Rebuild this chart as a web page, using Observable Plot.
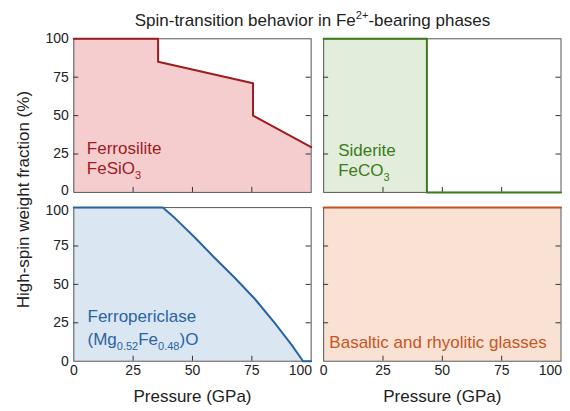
<!DOCTYPE html>
<html><head><meta charset="utf-8">
<script src="https://cdn.jsdelivr.net/npm/d3@7"></script>
<script src="https://cdn.jsdelivr.net/npm/@observablehq/plot@0.6"></script>
<style>
html,body{margin:0;padding:0;background:#fff;}
#wrap{width:570px;font-family:"Liberation Sans",Arial,Helvetica,sans-serif;color:#222;}
#title{position:relative;height:30px;width:570px;}
#title span{position:absolute;left:312.5px;top:12px;transform:translateX(-50%);white-space:nowrap;font-size:17px;line-height:1;}
#title sup{font-size:11px;line-height:0;vertical-align:0;position:relative;top:-7px;}
</style></head>
<body><div id="wrap"><div id="title"><span>Spin-transition behavior in Fe<sup>2+</sup>-bearing phases</span></div><div id="chart"></div></div>
<script>
// ---- data ----
const pressureTicks = [0, 25, 50, 75, 100];
const fractionTicks = [0, 25, 50, 75, 100];
const xTitle = "Pressure (GPa)";
const yTitle = "High-spin weight fraction (%)";

const ferrosilitePressure = [0, 35.5, 35.5, 75.5, 75.5, 100];
const ferrosiliteFraction = [100, 100, 85, 71, 50, 29.5];

const sideritePressure = [0, 43.5, 43.5, 100];
const sideriteFraction = [100, 100, 0, 0];

const ferropericlasePressure = [0, 37.5, 42.7, 51, 59.5, 68, 76.3, 84.7, 91.7, 96.6, 100];
const ferropericlaseFraction = [100, 100, 93, 80.5, 67, 54, 40.5, 24.8, 10.8, 0, 0];

const glassesPressure = [0, 100];
const glassesFraction = [100, 100];

const panelNames = ["Ferrosilite", "Siderite", "Ferropericlase", "Basaltic and rhyolitic glasses"];
const panelFormulas = ["FeSiO_{3}", "FeCO_{3}", "(Mg_{0.52}Fe_{0.48})O", ""];

// ---- layout / styles ----
const columns = ["left", "right"];
const rowsOrder = ["top", "bottom"];
const font = '"Liberation Sans", Arial, Helvetica, sans-serif';
const panelStyle = [
  {col: "left", row: "top", line: "#9c1c1f", fill: "#f5cdcf", dx: 13, nameDy: -38, formulaDy: -18.6},
  {col: "right", row: "top", line: "#3c7a20", fill: "#e2eedb", dx: 14.5, nameDy: -36, formulaDy: -16.6},
  {col: "left", row: "bottom", line: "#2864a2", fill: "#dbe6f3", dx: 13.7, nameDy: -39.7, formulaDy: -16.7},
  {col: "right", row: "bottom", line: "#c9541f", fill: "#f9e2d4", dx: 5.7, nameDy: -13, formulaDy: 0}
];
const seriesP = [ferrosilitePressure, sideritePressure, ferropericlasePressure, glassesPressure];
const seriesF = [ferrosiliteFraction, sideriteFraction, ferropericlaseFraction, glassesFraction];

const panels = panelStyle.map((s, k) => ({
  ...s,
  name: panelNames[k],
  formula: panelFormulas[k],
  rows: seriesP[k].map((p, i) => ({col: s.col, row: s.row, p, f: seriesF[k][i]}))
}));

const innerTicks = pressureTicks.slice(1, -1);
const yTickRows = [];
for (const row of rowsOrder) fractionTicks.forEach(v => yTickRows.push({col: "left", row, v, label: String(v),
  shift: row === "top" && v === fractionTicks[0] ? "up" : row === "bottom" && v === fractionTicks[fractionTicks.length - 1] ? "down" : "none"}));
const xTickRows = [];
for (const col of columns) pressureTicks.forEach((v, i) => xTickRows.push({col, row: "bottom", v, label: String(v), last: i === pressureTicks.length - 1}));
const xTitleRows = columns.map(col => ({col, row: "bottom", label: xTitle}));

const marks = [];
panels.forEach(p => marks.push(Plot.areaY(p.rows, {x: "p", y1: 0, y2: "f", fx: "col", fy: "row", fill: p.fill})));
marks.push(Plot.frame({stroke: "#555", strokeWidth: 1}));
marks.push(Plot.ruleY(innerTicks, {x1: 0, x2: 2.1, stroke: "#333"}));
marks.push(Plot.ruleY(innerTicks, {x1: 97.9, x2: 100, stroke: "#333"}));
marks.push(Plot.ruleX(innerTicks, {y1: 0, y2: 3.25, stroke: "#333"}));
panels.forEach(p => marks.push(Plot.line(p.rows, {x: "p", y: "f", fx: "col", fy: "row", stroke: p.line, strokeWidth: 2})));
const yTickOpts = {fx: "col", fy: "row", y: "v", text: "label", frameAnchor: "left", textAnchor: "end", dx: -5, fontSize: 14, fill: "#222"};
marks.push(Plot.text(yTickRows.filter(d => d.shift === "none"), yTickOpts));
marks.push(Plot.text(yTickRows.filter(d => d.shift === "up"), {...yTickOpts, dy: -2}));
marks.push(Plot.text(yTickRows.filter(d => d.shift === "down"), {...yTickOpts, dy: 3}));
marks.push(Plot.text(xTickRows.filter(d => !d.last), {fx: "col", fy: "row", x: "v", text: "label", frameAnchor: "bottom", textAnchor: "middle", dy: 14, fontSize: 14, fill: "#222"}));
marks.push(Plot.text(xTickRows.filter(d => d.last), {fx: "col", fy: "row", x: "v", text: "label", frameAnchor: "bottom", textAnchor: "end", dx: 1, dy: 14, fontSize: 14, fill: "#222"}));
marks.push(Plot.text(xTitleRows, {fx: "col", fy: "row", text: "label", frameAnchor: "bottom", textAnchor: "middle", lineAnchor: "bottom", dy: 41, fontSize: 17, fill: "#222"}));
marks.push(Plot.text([{col: "left", row: "top", label: yTitle}], {fx: "col", fy: "row", text: "label", frameAnchor: "bottom-left", textAnchor: "middle", rotate: -90, lineAnchor: "bottom", dx: -45, dy: 7.2, fontSize: 17, fill: "#222"}));
panels.forEach(p => {
  marks.push(Plot.text([p], {fx: "col", fy: "row", text: "name", frameAnchor: "bottom-left", textAnchor: "start", lineAnchor: "bottom", dx: p.dx, dy: p.nameDy, fontSize: 17, fill: p.line}));
  if (p.formula) marks.push(Plot.text([p], {fx: "col", fy: "row", text: "formula", frameAnchor: "bottom-left", textAnchor: "start", lineAnchor: "bottom", dx: p.dx, dy: p.formulaDy, fontSize: 17, fill: p.line}));
});

const chart = Plot.plot({
  width: 570, height: 381,
  marginTop: 8.3, marginBottom: 50.3, marginLeft: 73.3, marginRight: 9.5,
  style: {fontFamily: font, fontSize: "14px", color: "#222", background: "white", overflow: "visible"},
  x: {domain: [0, 100], axis: null},
  y: {domain: [0, 100], axis: null},
  fx: {domain: columns, axis: null, paddingInner: 0.05, paddingOuter: 0, round: false},
  fy: {domain: rowsOrder, axis: null, paddingInner: 0.09, paddingOuter: 0, round: false},
  marks
});

// subscripts: convert "_{...}" into tspans
d3.select(chart).selectAll("text").each(function () {
  const t = this.textContent;
  if (!t.includes("_{")) return;
  const parts = t.split(/(_\{[^}]*\})/).filter(s => s);
  this.textContent = "";
  let shifted = false;
  for (const s of parts) {
    const ts = document.createElementNS("http://www.w3.org/2000/svg", "tspan");
    if (s.startsWith("_{")) {
      ts.textContent = s.slice(2, -1);
      ts.setAttribute("font-size", "11px");
      if (!shifted) ts.setAttribute("dy", "5");
      shifted = true;
    } else {
      ts.textContent = s;
      if (shifted) { ts.setAttribute("dy", "-5"); shifted = false; }
    }
    this.appendChild(ts);
  }
});

document.getElementById("chart").appendChild(chart);
</script></body></html>
